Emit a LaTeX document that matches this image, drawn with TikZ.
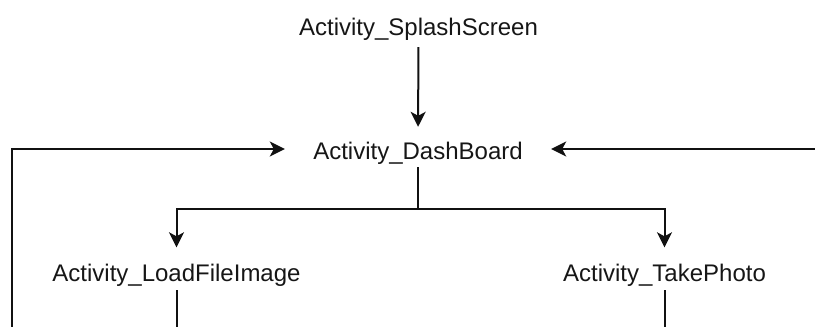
\documentclass[tikz,border=0pt]{standalone}
\usepackage{fontspec}
\setmainfont{Liberation Sans}
\usetikzlibrary{arrows.meta}
\definecolor{ink}{HTML}{161616}
\definecolor{wire}{HTML}{111111}
\tikzset{
  screen/.style={font=\fontsize{24pt}{28pt}\selectfont, text=ink,
    text height=16.5pt, text depth=0pt, inner xsep=0pt, inner ysep=0pt,
    anchor=base},
  flow/.style={draw=wire, line width=2pt,
    -{Stealth[length=15pt, width=15pt, inset=4pt]}},
  wireline/.style={draw=wire, line width=2pt},
}
\begin{document}
\begin{tikzpicture}[x=1pt, y=-1pt]
  \useasboundingbox (0,0) rectangle (815,327);

  % activities
  \node[screen] (splash) at (418.5,35)  {Activity\_SplashScreen};
  \node[screen, minimum width=212pt] (dash) at (418,159.5) {Activity\_DashBoard};
  \node[screen] (load) at (176.5,281) {Activity\_LoadFileImage};
  \node[screen] (take) at (664.5,281) {Activity\_TakePhoto};

  % free ends of the return paths (below and right of the frame)
  \coordinate (loopL) at (12,335);
  \coordinate (loopR) at (820,149);
  \coordinate (floor) at (0,335);

  % splash -> dashboard
  \draw[flow, shorten <=12pt, shorten >=16pt] (splash.south) -- (dash.north);

  % dashboard -> the two branches
  \draw[flow, shorten <=7.5pt, shorten >=17pt]
    (dash.south) -- ++(0,49.5) -| (load.north);
  \draw[flow, shorten <=7.5pt, shorten >=17pt]
    (dash.south) -- ++(0,49.5) -| (take.north);

  % branches continue downward
  \draw[wireline, shorten <=9pt] (load.south) -- (load.south |- floor);
  \draw[wireline, shorten <=9pt] (take.south) -- (take.south |- floor);

  % return paths into the dashboard
  \draw[flow, shorten >=27pt] (loopL) |- ([yshift=2.25pt]dash.west);
  \draw[flow, shorten >=27pt] (loopR) -- ([yshift=2.25pt]dash.east);
\end{tikzpicture}
\end{document}
